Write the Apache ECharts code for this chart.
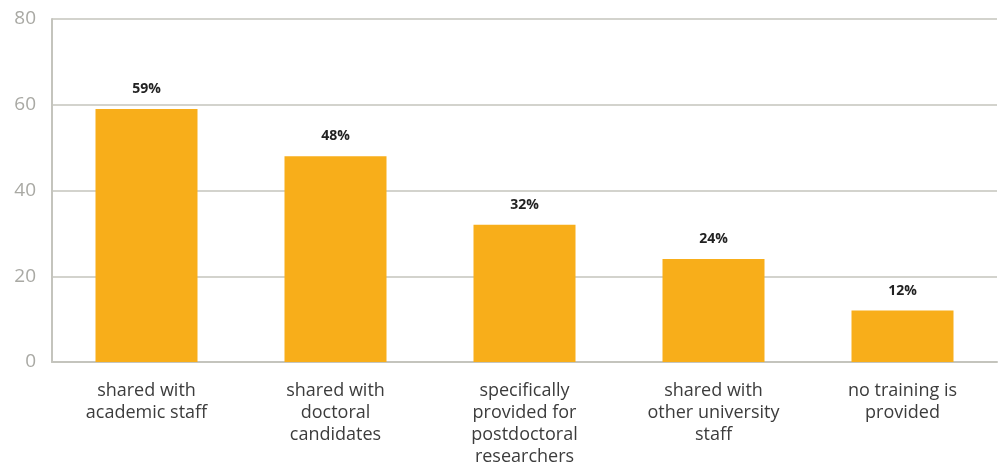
<!DOCTYPE html>
<html>
<head>
<meta charset="utf-8">
<script src="https://cdn.jsdelivr.net/npm/echarts@6/dist/echarts.min.js"></script>
<style>
  html, body { margin: 0; padding: 0; background: #fff; }
  #chart { width: 1000px; height: 468px; }
</style>
</head>
<body>
<div id="chart"></div>
<script>
// Where training for postdoctoral researchers comes from (share of responses, %)
const categories = [
  'shared with\nacademic staff',
  'shared with\ndoctoral\ncandidates',
  'specifically\nprovided for\npostdoctoral\nresearchers',
  'shared with\nother university\nstaff',
  'no training is\nprovided'
];
const values = [59, 48, 32, 24, 12];
const yTicks = [0, 20, 40, 60, 80];

const FONT = '"Open Sans", "DejaVu Sans", sans-serif';
const GRID_COLOR = '#c4c4bd';

const chart = echarts.init(document.getElementById('chart'), null, { renderer: 'canvas' });
chart.setOption({
  animation: false,
  backgroundColor: '#ffffff',
  grid: { left: 52, right: 3, top: 19, bottom: 104, containLabel: false },
  xAxis: {
    type: 'category',
    data: categories,
    axisLine: { show: true, lineStyle: { color: GRID_COLOR, width: 2 } },
    axisTick: { show: false },
    axisLabel: {
      margin: 18,
      fontFamily: FONT,
      fontSize: 18,
      lineHeight: 22,
      color: '#3c3c3c',
      interval: 0
    }
  },
  yAxis: {
    type: 'value',
    min: yTicks[0],
    max: yTicks[yTicks.length - 1],
    interval: yTicks[1] - yTicks[0],
    axisLine: { show: true, lineStyle: { color: GRID_COLOR, width: 2 } },
    axisTick: { show: false },
    splitLine: { show: true, lineStyle: { color: GRID_COLOR, width: 1.5 } },
    axisLabel: {
      margin: 16,
      fontFamily: FONT,
      fontSize: 19,
      color: '#a9a9a4'
    }
  },
  series: [{
    type: 'bar',
    data: values,
    barWidth: 102,
    itemStyle: { color: '#f8ae1a' },
    label: {
      show: true,
      position: 'top',
      distance: 13,
      formatter: '{c}%',
      fontFamily: FONT,
      fontWeight: 'bold',
      fontSize: 14,
      color: '#222222'
    }
  }]
});
</script>
</body>
</html>
